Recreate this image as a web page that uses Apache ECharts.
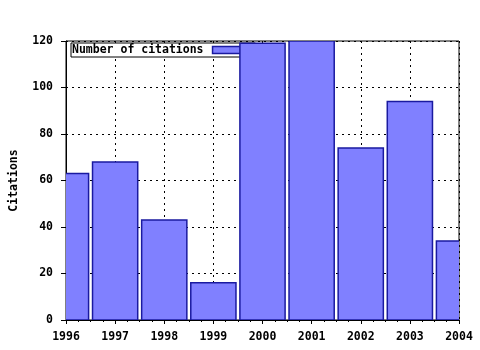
<!DOCTYPE html>
<html>
<head>
<meta charset="utf-8">
<script src="https://cdn.jsdelivr.net/npm/echarts@6/dist/echarts.min.js"></script>
<style>html,body{margin:0;padding:0;background:#fff}#c{width:480px;height:350px}</style>
</head>
<body>
<div id="c"></div>
<script>
var years = [1996, 1997, 1998, 1999, 2000, 2001, 2002, 2003, 2004];
var citations = [63, 68, 43, 16, 119, 120, 74, 94, 34];
var yTicks = [0, 20, 40, 60, 80, 100, 120];
var seriesName = 'Number of citations';
var yName = 'Citations';

var font = '"DejaVu Sans Mono", monospace';
var fs = 11.5;
var barFill = '#8080ff', barEdge = '#1a1aa0';
var chart = echarts.init(document.getElementById('c'), null, {renderer: 'canvas'});
var data = years.map(function (y, i) { return [y, citations[i]]; });

chart.setOption({
  animation: false,
  backgroundColor: '#ffffff',
  grid: {left: 64, right: 21, top: 41, bottom: 30, show: true, borderColor: '#000', borderWidth: 1, backgroundColor: 'transparent', containLabel: false},
  legend: {
    z: 1,
    left: 71, top: 43,
    padding: [1, 2, 1, 1],
    itemGap: 0,
    itemWidth: 40, itemHeight: 7,
    backgroundColor: '#fff',
    borderColor: '#000', borderWidth: 1, borderRadius: 0,
    align: 'right',
    textStyle: {fontFamily: font, fontWeight: 'bold', fontSize: fs, color: '#000', padding: [0, 4, 0, 0]},
    data: [{name: seriesName, icon: 'rect', itemStyle: {color: barFill, borderColor: barEdge, borderWidth: 1.5}}]
  },
  xAxis: [{
    type: 'value', position: 'bottom',
    min: years[0], max: years[years.length - 1], interval: 1,
    axisLine: {show: true, onZero: false, lineStyle: {color: '#000', width: 1}},
    axisTick: {show: true, inside: false, length: 3, lineStyle: {color: '#000'}},
    minorTick: {show: true, splitNumber: 4, length: 2, lineStyle: {color: '#000'}},
    axisLabel: {fontFamily: font, fontWeight: 'bold', fontSize: fs, color: '#000', margin: 11, formatter: function (v) { return String(v); }},
    splitLine: {show: true, lineStyle: {color: '#000', type: [2, 4], width: 1}}
  }, {
    type: 'value', position: 'top',
    min: years[0], max: years[years.length - 1], interval: 1,
    axisLine: {show: true, lineStyle: {color: '#000', width: 1}},
    axisTick: {show: true, inside: true, length: 4, lineStyle: {color: '#000'}},
    minorTick: {show: true, splitNumber: 4, length: 2, lineStyle: {color: '#000'}},
    axisLabel: {show: false},
    splitLine: {show: false}
  }],
  yAxis: {
    type: 'value', min: 0, max: 120, interval: 20,
    name: yName, nameLocation: 'middle', nameGap: 46, nameRotate: 90,
    nameTextStyle: {fontFamily: font, fontWeight: 'bold', fontSize: fs, color: '#000'},
    axisLine: {show: true, lineStyle: {color: '#000', width: 1}},
    axisTick: {show: true, inside: false, length: 5, lineStyle: {color: '#000'}},
    axisLabel: {fontFamily: font, fontWeight: 'bold', fontSize: fs, color: '#000', margin: 13,
      formatter: function (v) { return yTicks.indexOf(v) >= 0 ? String(v) : ''; }},
    splitLine: {show: true, lineStyle: {color: '#000', type: [2, 4], width: 1}}
  },
  series: [{
    name: seriesName,
    type: 'custom',
    z: 2,
    xAxisIndex: 0,
    clip: true,
    data: data,
    encode: {x: 0, y: 1},
    itemStyle: {color: barFill, borderColor: barEdge, borderWidth: 1.5},
    renderItem: function (params, api) {
      var top = api.coord([api.value(0), api.value(1)]);
      var base = api.coord([api.value(0), 0]);
      var w = api.size([1, 0])[0] * 0.92;
      return {
        type: 'rect',
        shape: {x: top[0] - w / 2, y: top[1], width: w, height: base[1] - top[1]},
        style: {fill: barFill, stroke: barEdge, lineWidth: 1.5}
      };
    }
  }]
});
</script>
</body>
</html>
